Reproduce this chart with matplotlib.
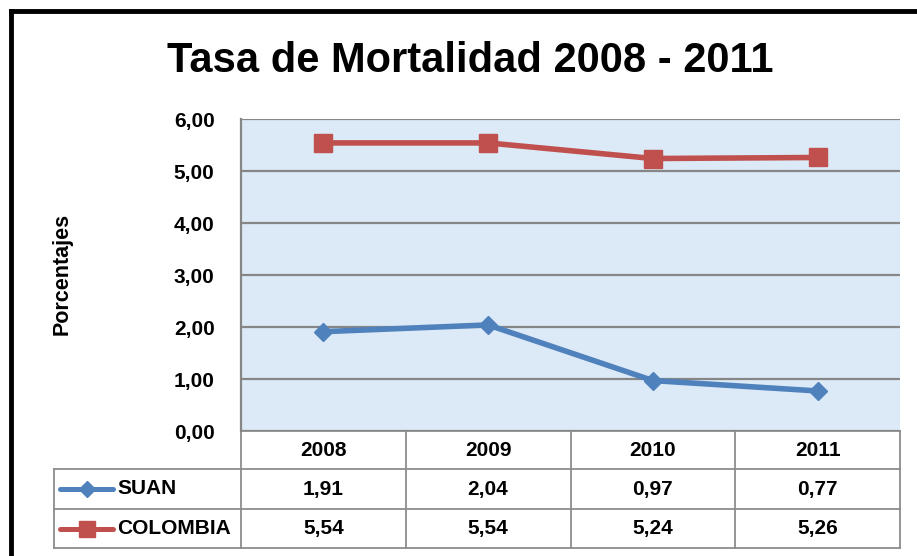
import matplotlib
matplotlib.use("Agg")
import matplotlib.pyplot as plt
import matplotlib.transforms as mtransforms
from matplotlib.lines import Line2D

YEARS = ["2008", "2009", "2010", "2011"]
SUAN = [1.91, 2.04, 0.97, 0.77]
COLOMBIA = [5.54, 5.54, 5.24, 5.26]
SERIES = [
    ("SUAN", SUAN, "#4f81bd", "D", 9.5),
    ("COLOMBIA", COLOMBIA, "#c0504d", "s", 13),
]
Y_TICKS = [0, 1, 2, 3, 4, 5, 6]

FONT = ["Liberation Sans", "DejaVu Sans"]
GRID = "#868686"
W, H = 917, 556


def fmt(v):
    return f"{v:.2f}".replace(".", ",")


def main():
    plt.rcParams["font.family"] = FONT
    fig = plt.figure(figsize=(W / 100, H / 100), dpi=100)
    fig.patch.set_facecolor("white")

    # overlay in pixel coordinates for frame/table
    ov = fig.add_axes([0, 0, 1, 1])
    ov.set_xlim(0, W)
    ov.set_ylim(H, 0)
    ov.axis("off")

    left, right, top, bottom = 241, 900, 119, 431
    ax = fig.add_axes([left / W, (H - bottom) / H, (right - left) / W, (bottom - top) / H])
    ax.set_facecolor("#dce9f6")
    x = list(range(len(YEARS)))
    for name, vals, color, marker, ms in SERIES:
        ax.plot(x, vals, color=color, lw=4, marker=marker, markersize=ms,
                markeredgecolor=color, zorder=3)
    ax.set_xlim(-0.5, len(YEARS) - 0.5)
    ax.set_ylim(0, 6)
    ax.set_yticks(Y_TICKS)
    ax.set_yticklabels([fmt(v) for v in Y_TICKS], fontsize=15, fontweight="bold")
    ax.tick_params(axis="y", length=0, pad=19)
    ax.set_xticks([])
    ax.grid(axis="y", color=GRID, lw=1.6, zorder=1)
    for side in ["top", "right", "bottom"]:
        ax.spines[side].set_visible(False)
    ax.spines["left"].set_color(GRID)
    ax.spines["left"].set_linewidth(1.6)

    # title and y label
    fig.text(470 / W, 1 - 61 / H, "Tasa de Mortalidad 2008 - 2011", ha="center", va="center",
             fontsize=30, fontweight="bold")
    fig.text(62 / W, 1 - 274 / H, "Porcentajes", rotation=90, ha="center", va="center",
             fontsize=15.5, fontweight="bold")

    # outer frame (left and top edges visible)
    ov.plot([11, 11], [11, H + 5], color="black", lw=3.5, solid_capstyle="projecting", clip_on=False)
    ov.plot([11, W + 5], [11, 11], color="black", lw=3.5, solid_capstyle="projecting", clip_on=False)

    # data table
    tr = mtransforms.blended_transform_factory(ax.transData, ov.transData)
    rows = [431, 469, 509, 548]
    tcol = 54
    lc, lw = "#8c8c8c", 1.3
    ov.plot([left, right], [rows[0], rows[0]], color=lc, lw=lw)
    for r in rows[1:]:
        ov.plot([tcol, right], [r, r], color=lc, lw=lw)
    ov.plot([tcol, tcol], [rows[1], rows[3]], color=lc, lw=lw)
    for i in range(len(YEARS) + 1):
        ov.plot([i - 0.5, i - 0.5], [rows[0], rows[3]], color=lc, lw=lw, transform=tr)
    for i, yr in enumerate(YEARS):
        ov.text(i, (rows[0] + rows[1]) / 2, yr, transform=tr, ha="center", va="center",
                fontsize=15, fontweight="bold")
    for k, (name, vals, color, marker, ms) in enumerate(SERIES):
        yc = (rows[k + 1] + rows[k + 2]) / 2
        for i, v in enumerate(vals):
            ov.text(i, yc, fmt(v), transform=tr, ha="center", va="center",
                    fontsize=15, fontweight="bold")
        ov.add_line(Line2D([60, 113], [yc, yc], color=color, lw=3.6, solid_capstyle="round"))
        ov.plot([86.5], [yc], marker=marker, color=color, markersize=ms * 0.85)
        ov.text(117, yc, name, ha="left", va="center", fontsize=15, fontweight="bold")

    fig.savefig("out.png", dpi=100)


if __name__ == "__main__":
    main()
